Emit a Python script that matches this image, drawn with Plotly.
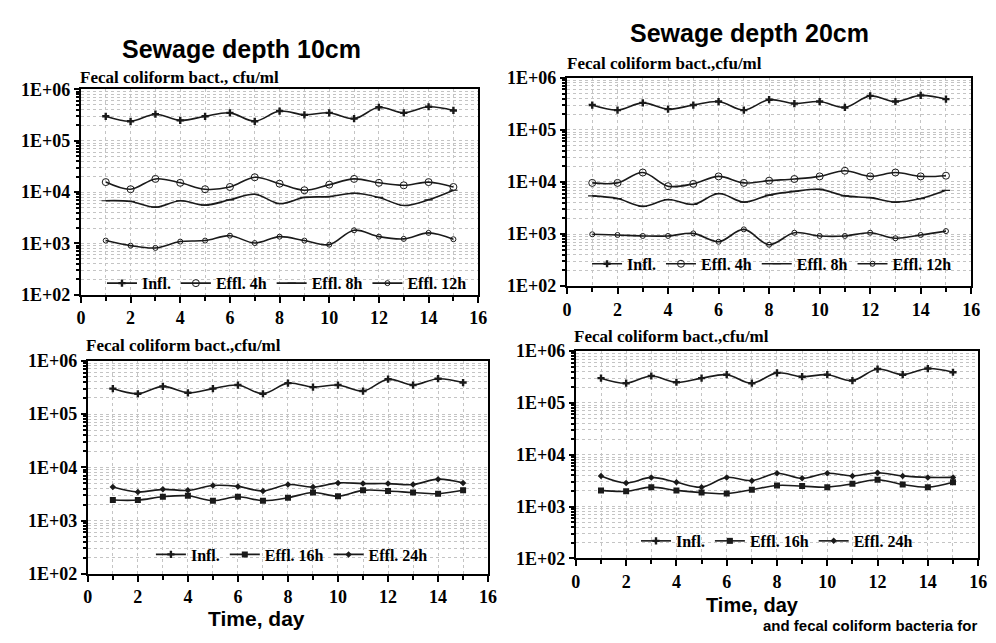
import plotly.graph_objects as go

# ---------------- data ----------------
days = list(range(1, 16))
x_ticks = [0, 2, 4, 6, 8, 10, 12, 14, 16]
y_tickvals = [1e2, 1e3, 1e4, 1e5, 1e6]
y_ticktext = ["1E+02", "1E+03", "1E+04", "1E+05", "1E+06"]

# Sewage depth 10 cm
infl_10 = [3.0e5, 2.4e5, 3.3e5, 2.5e5, 3.0e5, 3.5e5, 2.4e5, 3.8e5, 3.2e5, 3.5e5, 2.7e5, 4.5e5, 3.5e5, 4.6e5, 3.9e5]
eff4_10 = [1.57e4, 1.14e4, 1.81e4, 1.52e4, 1.14e4, 1.26e4, 1.95e4, 1.46e4, 1.09e4, 1.40e4, 1.81e4, 1.52e4, 1.36e4, 1.57e4, 1.26e4]
eff8_10 = [6.8e3, 6.6e3, 5.1e3, 6.8e3, 5.6e3, 7.1e3, 9.1e3, 6.0e3, 7.9e3, 8.2e3, 9.5e3, 7.9e3, 5.5e3, 7.1e3, 1.09e4]
eff12_10 = [1.14e3, 0.91e3, 0.82e3, 1.09e3, 1.14e3, 1.42e3, 1.02e3, 1.36e3, 1.14e3, 0.95e3, 1.81e3, 1.36e3, 1.23e3, 1.61e3, 1.21e3]
eff16_10 = [2.43e3, 2.43e3, 2.8e3, 2.92e3, 2.37e3, 2.8e3, 2.37e3, 2.69e3, 3.36e3, 2.88e3, 3.7e3, 3.6e3, 3.36e3, 3.2e3, 3.7e3]
eff24_10 = [4.26e3, 3.45e3, 3.86e3, 3.7e3, 4.56e3, 4.38e3, 3.6e3, 4.75e3, 4.26e3, 5.1e3, 4.95e3, 4.95e3, 4.75e3, 6.0e3, 5.1e3]

# Sewage depth 20 cm
infl_20 = [3.0e5, 2.4e5, 3.3e5, 2.5e5, 3.0e5, 3.5e5, 2.4e5, 3.8e5, 3.2e5, 3.5e5, 2.7e5, 4.5e5, 3.5e5, 4.6e5, 3.9e5]
eff4_20 = [9.6e3, 9.6e3, 1.52e4, 8.3e3, 9.2e3, 1.28e4, 9.6e3, 1.06e4, 1.14e4, 1.28e4, 1.64e4, 1.28e4, 1.52e4, 1.28e4, 1.32e4]
eff8_20 = [5.4e3, 4.8e3, 3.4e3, 4.6e3, 3.7e3, 6.0e3, 4.1e3, 5.6e3, 6.6e3, 7.2e3, 5.4e3, 5.0e3, 4.1e3, 4.8e3, 6.9e3]
eff12_20 = [990, 960, 920, 920, 1030, 711, 1230, 624, 1060, 920, 920, 1060, 830, 960, 1140]
eff16_20 = [2.05e3, 1.97e3, 2.37e3, 2.05e3, 1.86e3, 1.78e3, 2.11e3, 2.55e3, 2.48e3, 2.37e3, 2.74e3, 3.3e3, 2.66e3, 2.37e3, 2.94e3]
eff24_20 = [3.9e3, 2.86e3, 3.65e3, 2.94e3, 2.37e3, 3.65e3, 3.16e3, 4.4e3, 3.5e3, 4.4e3, 3.9e3, 4.5e3, 3.9e3, 3.65e3, 3.65e3]

# ---------------- style ----------------
W, H = 996, 643
SERIF = "Liberation Serif"
SANS = "Liberation Sans"
INK = "#1a1a1a"
GRID = "#c4c4c4"

def px_x(p):
    return p / W

def px_y(p):
    return 1 - p / H

MARKERS = {
    "Infl.": dict(symbol="cross", size=6, color=INK),
    "Effl. 4h": dict(symbol="circle-open", size=7, color=INK, line=dict(width=1, color="#777")),
    "Effl. 8h": dict(symbol="line-ew-open", size=6, color=INK, line=dict(width=1.2, color=INK)),
    "Effl. 12h": dict(symbol="circle-open", size=5, color=INK, line=dict(width=1, color="#888")),
    "Effl. 16h": dict(symbol="square", size=6, color=INK),
    "Effl. 24h": dict(symbol="diamond", size=5, color=INK),
}

panels = [
    dict(xd=(77, 480), yd=(82, 294), legend="legend", leg=(286, 282),
         series=[("Infl.", infl_10), ("Effl. 4h", eff4_10), ("Effl. 8h", eff8_10), ("Effl. 12h", eff12_10)]),
    dict(xd=(570, 980), yd=(70, 285), legend="legend2", leg=(778, 262),
         series=[("Infl.", infl_20), ("Effl. 4h", eff4_20), ("Effl. 8h", eff8_20), ("Effl. 12h", eff12_20)]),
    dict(xd=(84, 490), yd=(362, 582), legend="legend3", leg=(291, 562),
         series=[("Infl.", infl_10), ("Effl. 16h", eff16_10), ("Effl. 24h", eff24_10)]),
    dict(xd=(579, 987), yd=(352, 566), legend="legend4", leg=(783, 548),
         series=[("Infl.", infl_20), ("Effl. 16h", eff16_20), ("Effl. 24h", eff24_20)]),
]

minor_y = [k * 10 ** e for e in range(2, 6) for k in range(2, 10)]

fig = go.Figure()
layout = dict(
    width=W, height=H,
    margin=dict(l=0, r=0, t=0, b=0),
    paper_bgcolor="white", plot_bgcolor="white",
    showlegend=True,
    annotations=[],
)

for i, p in enumerate(panels):
    n = "" if i == 0 else str(i + 1)
    xa, ya = "x" + n, "y" + n
    for name, vals in p["series"]:
        fig.add_trace(go.Scatter(
            x=days, y=vals, name=name, mode="lines+markers",
            line=dict(color=INK, width=1.6, shape="spline", smoothing=1.0),
            marker=MARKERS[name],
            xaxis=xa, yaxis=ya, legend=p["legend"],
        ))
    layout["xaxis" + n] = dict(
        domain=[px_x(p["xd"][0]), px_x(p["xd"][1])], anchor=ya,
        range=[0, 16], tickvals=x_ticks, ticks="outside", ticklen=6, tickwidth=1.5, tickcolor="black",
        showline=True, linecolor="black", linewidth=2, mirror=True, zeroline=False,
        showgrid=True, gridcolor=GRID, griddash="dot", gridwidth=1,
        minor=dict(dtick=1, tick0=0, ticks="outside", ticklen=4, tickcolor="black",
                   showgrid=True, gridcolor=GRID, griddash="dot"),
        tickfont=dict(family=SERIF, size=18, color="black", weight="bold"),
    )
    layout["yaxis" + n] = dict(
        domain=[px_y(p["yd"][1]), px_y(p["yd"][0])], anchor=xa,
        type="log", range=[2, 6], tickvals=y_tickvals, ticktext=y_ticktext,
        ticks="outside", ticklen=5, tickwidth=1.5, tickcolor="black",
        showline=True, linecolor="black", linewidth=2, mirror=True, zeroline=False,
        showgrid=True, gridcolor=GRID, griddash="dot",
        minor=dict(tickvals=minor_y, ticks="outside", ticklen=3, tickcolor="black",
                   showgrid=True, gridcolor=GRID, griddash="dot"),
        tickfont=dict(family=SERIF, size=18, color="black", weight="bold"),
    )
    layout[p["legend"]] = dict(
        x=px_x(p["leg"][0]), y=px_y(p["leg"][1]), xanchor="center", yanchor="middle",
        xref="paper", yref="paper",
        orientation="h", bgcolor="rgba(0,0,0,0)", borderwidth=0,
        font=dict(family=SERIF, size=16, color="black", weight="bold"),
        itemwidth=30, tracegroupgap=0, itemclick=False,
    )

def ann(text, x, y, size, family, xanchor="center", weight="bold"):
    layout["annotations"].append(dict(
        text=text, x=px_x(x), y=px_y(y), xref="paper", yref="paper",
        xanchor=xanchor, yanchor="middle", showarrow=False,
        font=dict(family=family, size=size, color="black", weight=weight),
    ))

ann("Sewage depth 10cm", 240, 40, 25, SANS)
ann("Sewage depth 20cm", 755, 24, 25, SANS)
ann("Fecal coliform bact., cfu/ml", 74, 70, 17, SERIF, xanchor="left")
ann("Fecal coliform bact.,cfu/ml", 568, 55, 17, SERIF, xanchor="left")
ann("Fecal coliform bact.,cfu/ml", 80, 346, 17, SERIF, xanchor="left")
ann("Fecal coliform bact.,cfu/ml", 575, 337, 17, SERIF, xanchor="left")
ann("Time, day", 255, 628, 21, SANS)
ann("Time, day", 758, 614, 20, SANS)
ann("and fecal coliform bacteria for", 988, 635, 15, SANS, xanchor="right")

fig.update_layout(**layout)
fig.write_html("out.html")
